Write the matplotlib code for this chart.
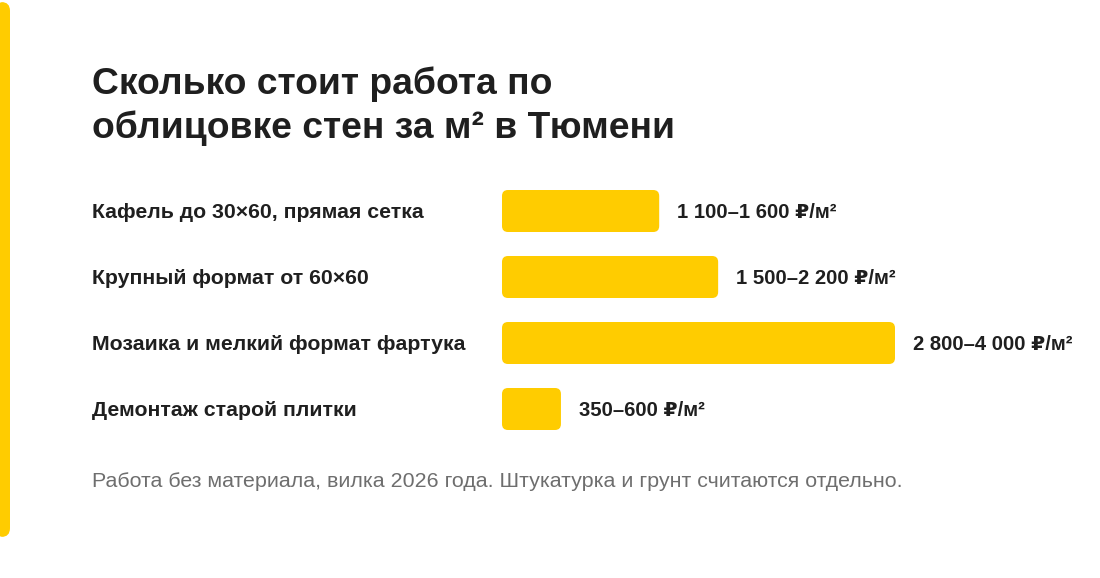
import matplotlib.pyplot as plt
from matplotlib.patches import FancyBboxPatch
import matplotlib.transforms as mtransforms

plt.rcParams['font.family'] = ['Liberation Sans', 'DejaVu Sans']

# data
categories = ["Кафель до 30×60, прямая сетка",
              "Крупный формат от 60×60",
              "Мозаика и мелкий формат фартука",
              "Демонтаж старой плитки"]
price_low = [1100, 1500, 2800, 350]
price_high = [1600, 2200, 4000, 600]
value_labels = ["1 100–1 600 ₽/м²", "1 500–2 200 ₽/м²",
                "2 800–4 000 ₽/м²", "350–600 ₽/м²"]
title_lines = ["Сколько стоит работа по", "облицовке стен за м² в Тюмени"]
note = "Работа без материала, вилка 2026 года. Штукатурка и грунт считаются отдельно."

W, H = 1100, 578
YELLOW = "#FFCC00"
DARK = "#1f1f1f"
GREY = "#6e6e6e"

fig = plt.figure(figsize=(W / 100, H / 100), dpi=100)
fig.patch.set_facecolor("white")

# left accent stripe (top ~2px, bottom ~537px)
stripe = FancyBboxPatch((-5 / W, (H - 537) / H), 15 / W, 535 / H,
                        boxstyle="round,pad=0,rounding_size=0.008",
                        mutation_aspect=W / H,
                        transform=fig.transFigure, facecolor=YELLOW,
                        edgecolor="none")
fig.patches.append(stripe)

# bars axes: starts at bar origin, 4000 -> ~393 px
x0 = 502
ax = fig.add_axes([x0 / W, 0, 1 - x0 / W, 1])
px_per_unit = 393 / 4000
ax.set_xlim(0, (W - x0) / px_per_unit)
row_px = 66
first_center = 211
ax.set_ylim((H - first_center) / row_px, -first_center / row_px)
ax.axis("off")

bar_h = 42 / row_px
rx = 6 / px_per_unit          # corner radius in x data units
aspect = (1 / row_px) / (1 / px_per_unit)
for i, (hi, lab) in enumerate(zip(price_high, value_labels)):
    p = FancyBboxPatch((0, i - bar_h / 2), hi, bar_h,
                       boxstyle=f"round,pad=0,rounding_size={rx}",
                       mutation_aspect=aspect,
                       facecolor=YELLOW, edgecolor="none")
    ax.add_patch(p)
    ax.annotate(lab, xy=(hi, i), xytext=(18 * 0.72, -7.5 * 0.72),
                textcoords="offset points", ha="left", va="baseline",
                fontsize=14.6, fontweight="bold", color=DARK)

# category labels
trans = mtransforms.blended_transform_factory(fig.transFigure, ax.transData)
for i, cat in enumerate(categories):
    ax.annotate(cat, xy=(92 / W, i), xycoords=trans,
                xytext=(0, -7.5 * 0.72), textcoords="offset points",
                ha="left", va="baseline", fontsize=15.3,
                fontweight="bold", color=DARK)

# title and note
fig.text(92 / W, 1 - 94 / H, title_lines[0], fontsize=26.8,
         fontweight="bold", color=DARK, ha="left", va="baseline")
fig.text(92 / W, 1 - 138 / H, title_lines[1], fontsize=26.8,
         fontweight="bold", color=DARK, ha="left", va="baseline")
fig.text(92 / W, 1 - 487 / H, note, fontsize=15.4,
         color=GREY, ha="left", va="baseline")

fig.savefig("out.png", dpi=100, facecolor="white")
